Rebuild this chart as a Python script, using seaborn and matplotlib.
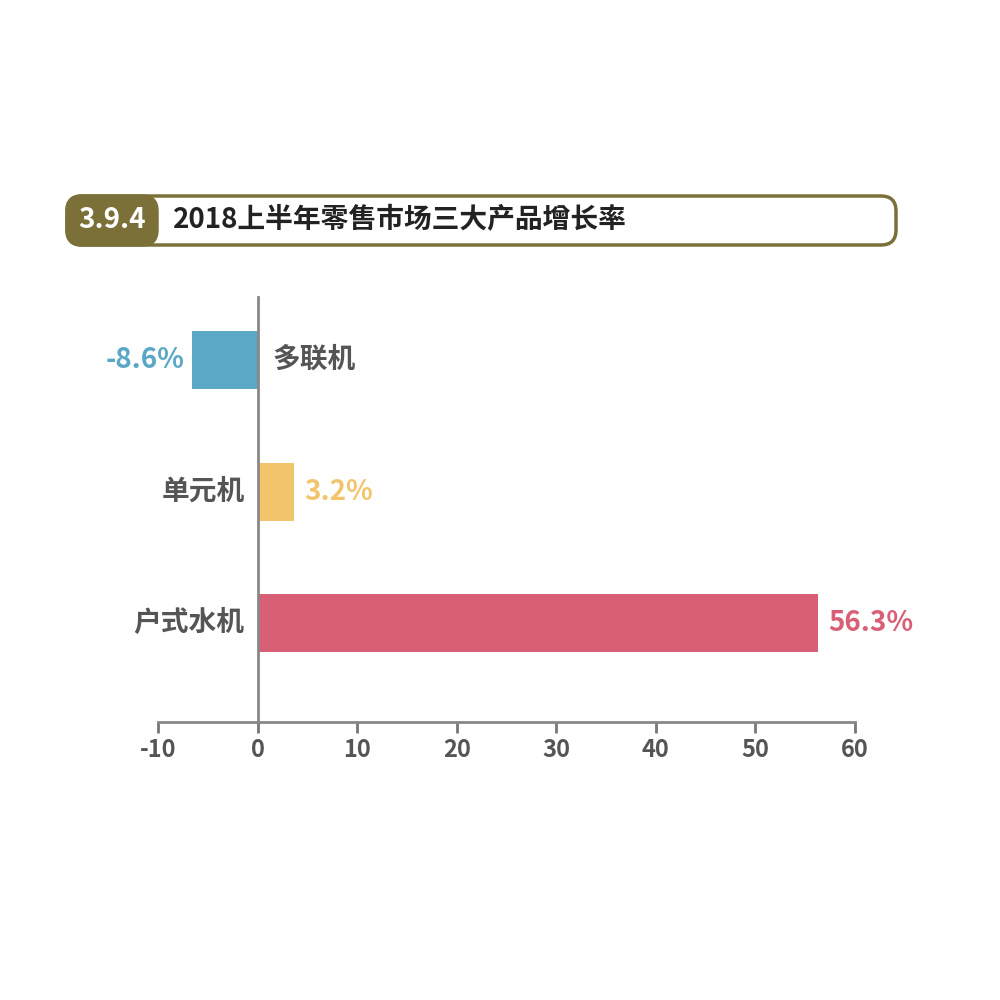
import matplotlib
matplotlib.use("Agg")
import matplotlib.pyplot as plt
from matplotlib import font_manager
import seaborn as sns
import pandas as pd
from matplotlib.patches import FancyBboxPatch

# register any CJK font files matplotlib may have missed
for f in font_manager.findSystemFonts():
    if "CJK" in f or "cjk" in f:
        try:
            font_manager.fontManager.addfont(f)
        except Exception:
            pass
names = {f.name for f in font_manager.fontManager.ttflist}
cjk = [n for n in ["Noto Sans CJK SC", "Noto Sans CJK JP", "Noto Sans CJK TC",
                   "Noto Sans CJK KR", "Noto Sans SC"] if n in names]
plt.rcParams["font.family"] = cjk + ["DejaVu Sans"]
plt.rcParams["axes.unicode_minus"] = False

categories = ["多联机", "单元机", "户式水机"]
bar_values = [-6.6, 3.7, 56.3]
value_labels = ["-8.6%", "3.2%", "56.3%"]
colors = ["#5ba7c6", "#f2c46b", "#d95f76"]
title = "2018上半年零售市场三大产品增长率"
section = "3.9.4"

df = pd.DataFrame({"cat": categories, "val": bar_values})

fig = plt.figure(figsize=(10, 10), dpi=100)
ax = fig.add_axes([0.158, 0.278, 0.697, 0.425])
sns.barplot(data=df, x="val", y="cat", hue="cat", palette=colors,
            orient="h", width=0.44, legend=False, ax=ax, saturation=1)
ax.set_xlim(-10, 60)
ax.set_ylim(2.75, -0.48)
ax.set_xticks(range(-10, 61, 10))
ax.tick_params(axis="x", colors="#777777", labelcolor="#555555", length=8, width=2,
               labelsize=17)
for t in ax.get_xticklabels():
    t.set_fontweight("bold")
ax.set_yticks([])
ax.set_xlabel("")
ax.set_ylabel("")
for s in ["top", "right"]:
    ax.spines[s].set_visible(False)
ax.spines["left"].set_position(("data", 0))
for s in ["left", "bottom"]:
    ax.spines[s].set_color("#888888")
    ax.spines[s].set_linewidth(2)

for i, (cat, v, lab, c) in enumerate(zip(categories, bar_values, value_labels, colors)):
    if v < 0:
        ax.text(v - 0.7, i, lab, ha="right", va="center", color=c, fontsize=20, fontweight="bold")
        ax.text(1.5, i, cat, ha="left", va="center", color="#555555", fontsize=20, fontweight="bold")
    else:
        ax.text(v + 1.0, i, lab, ha="left", va="center", color=c, fontsize=20, fontweight="bold")
        ax.text(-1.3, i, cat, ha="right", va="center", color="#555555", fontsize=20, fontweight="bold")

# header box
olive = "#7a7038"
fig.patches.append(FancyBboxPatch((0.067, 0.755), 0.829, 0.049,
                                  boxstyle="round,pad=0,rounding_size=0.015",
                                  transform=fig.transFigure, facecolor="white",
                                  edgecolor=olive, linewidth=2.5))
fig.patches.append(FancyBboxPatch((0.067, 0.755), 0.09, 0.049,
                                  boxstyle="round,pad=0,rounding_size=0.015",
                                  transform=fig.transFigure, facecolor=olive,
                                  edgecolor=olive, linewidth=2.5))
fig.text(0.112, 0.780, section, ha="center", va="center", color="white",
         fontsize=20, fontweight="bold")
fig.text(0.173, 0.780, title, ha="left", va="center", color="#222222",
         fontsize=20, fontweight="bold")

fig.savefig("out.png", dpi=100)
